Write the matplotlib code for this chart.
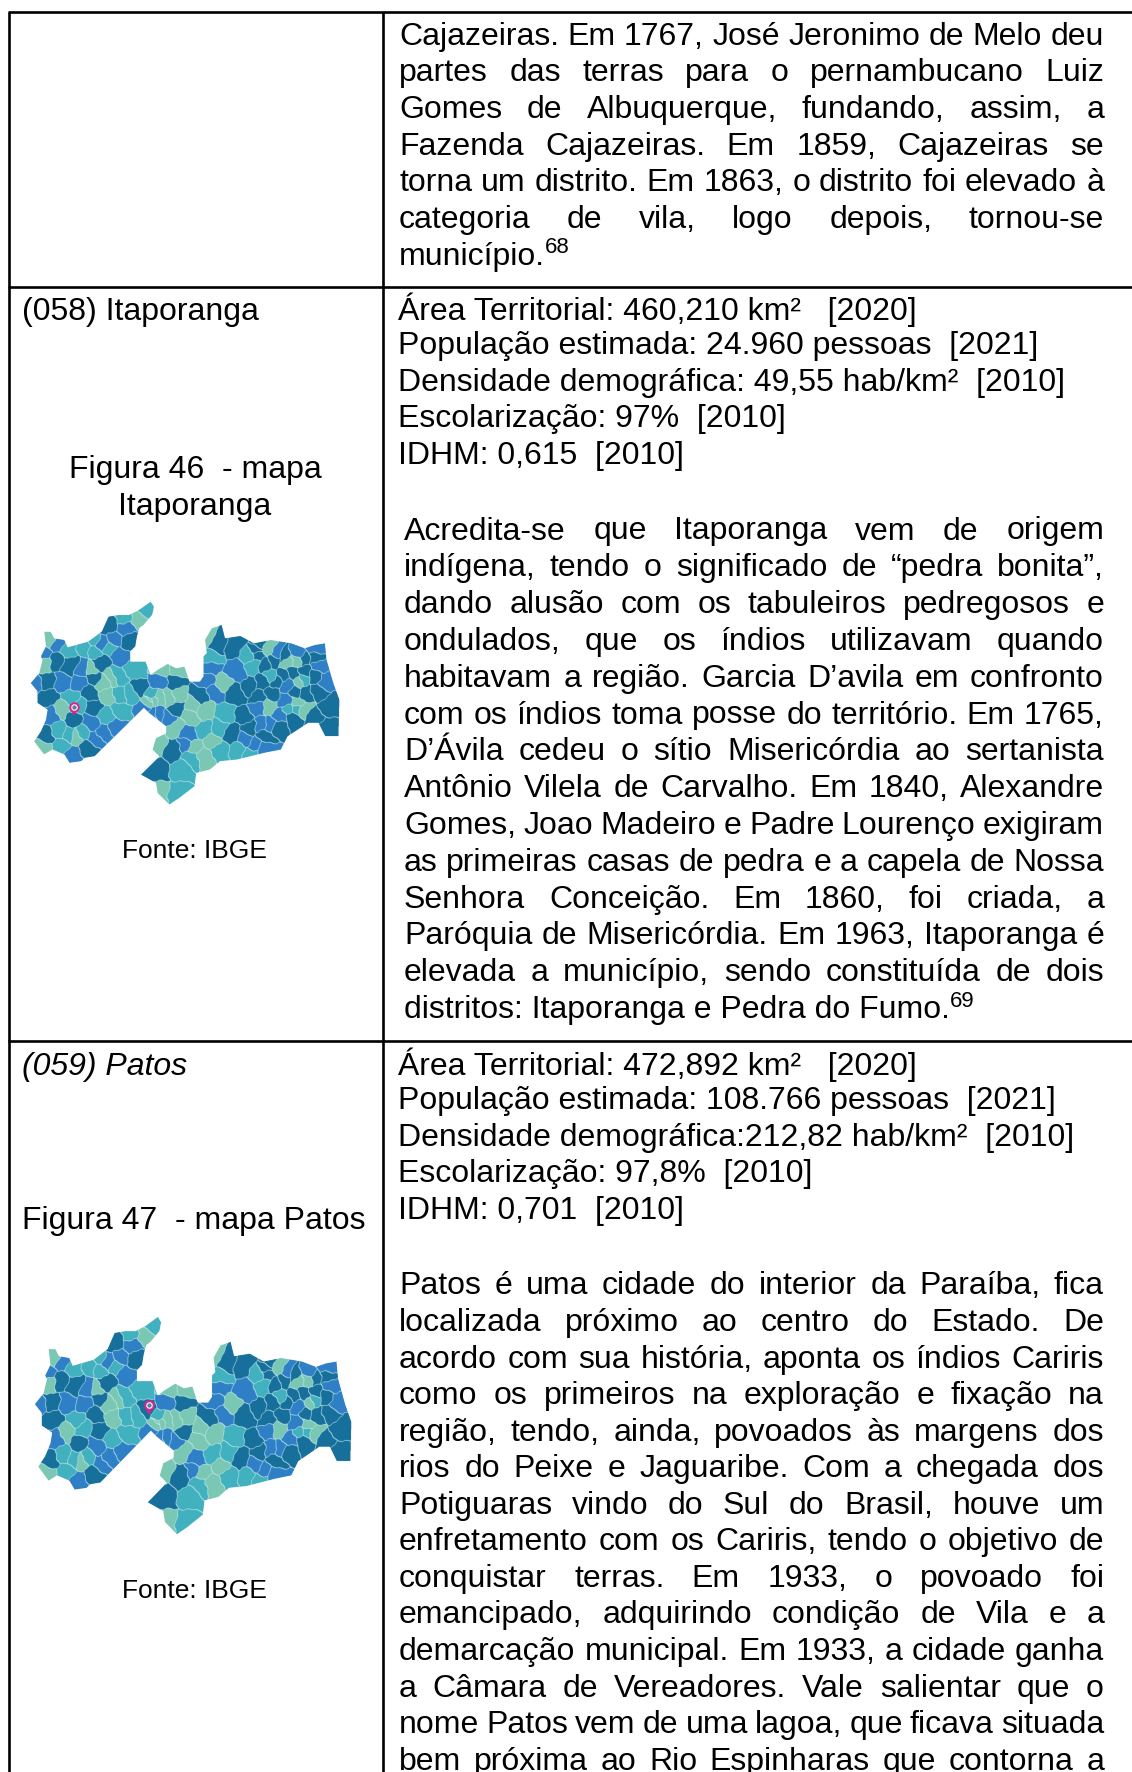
import numpy as np
import matplotlib
matplotlib.use('Agg')
import matplotlib.pyplot as plt
from matplotlib.colors import ListedColormap
from matplotlib.path import Path

plt.rcParams['font.family'] = ['Liberation Sans', 'DejaVu Sans']

# text of the table
top_lines = ['Cajazeiras. Em 1767, José Jeronimo de Melo deu',
             'partes das terras para o pernambucano Luiz',
             'Gomes de Albuquerque, fundando, assim, a',
             'Fazenda Cajazeiras. Em 1859, Cajazeiras se',
             'torna um distrito. Em 1863, o distrito foi elevado à',
             'categoria de vila, logo depois, tornou-se',
             'município.']
itap_facts = ['Área Territorial: 460,210 km²   [2020]',
              'População estimada: 24.960 pessoas  [2021]',
              'Densidade demográfica: 49,55 hab/km²  [2010]',
              'Escolarização: 97%  [2010]',
              'IDHM: 0,615  [2010]']
itap_lines = ['Acredita-se que Itaporanga vem de origem',
              'indígena, tendo o significado de “pedra bonita”,',
              'dando alusão com os tabuleiros pedregosos e',
              'ondulados, que os índios utilizavam quando',
              'habitavam a região. Garcia D’avila em confronto',
              'com os índios toma posse do território. Em 1765,',
              'D’Ávila cedeu o sítio Misericórdia ao sertanista',
              'Antônio Vilela de Carvalho. Em 1840, Alexandre',
              'Gomes, Joao Madeiro e Padre Lourenço exigiram',
              'as primeiras casas de pedra e a capela de Nossa',
              'Senhora Conceição. Em 1860, foi criada, a',
              'Paróquia de Misericórdia. Em 1963, Itaporanga é',
              'elevada a município, sendo constituída de dois',
              'distritos: Itaporanga e Pedra do Fumo.']
patos_facts = ['Área Territorial: 472,892 km²   [2020]',
               'População estimada: 108.766 pessoas  [2021]',
               'Densidade demográfica:212,82 hab/km²  [2010]',
               'Escolarização: 97,8%  [2010]',
               'IDHM: 0,701  [2010]']
patos_lines = ['Patos é uma cidade do interior da Paraíba, fica',
               'localizada próximo ao centro do Estado. De',
               'acordo com sua história, aponta os índios Cariris',
               'como os primeiros na exploração e fixação na',
               'região, tendo, ainda, povoados às margens dos',
               'rios do Peixe e Jaguaribe. Com a chegada dos',
               'Potiguaras vindo do Sul do Brasil, houve um',
               'enfretamento com os Cariris, tendo o objetivo de',
               'conquistar terras. Em 1933, o povoado foi',
               'emancipado, adquirindo condição de Vila e a',
               'demarcação municipal. Em 1933, a cidade ganha',
               'a Câmara de Vereadores. Vale salientar que o',
               'nome Patos vem de uma lagoa, que ficava situada',
               'bem próxima ao Rio Espinharas que contorna a']

# state outline
outline_x = [90,115,125,120,135,130,150,160,190,200,260,300,320,350,380,410,445,455,450,425,412,405,400,385,385,430,445,465,495,520,545,560,590,600,600,610,605,625,655,665,710,750,800,860,900,930,960,965,985,1003,1000,960,940,910,880,850,830,780,740,700,650,620,580,575,530,500,465,460,415,450,470,450,460,490,490,440,425,385,350,310,280,250,240,205,190,155,130,100,120,135,140,110,110]
outline_y = [370,340,300,290,260,215,215,235,240,262,245,215,170,165,165,150,125,140,165,195,205,230,260,275,305,305,345,330,312,325,320,365,365,350,290,280,240,205,195,235,228,250,240,250,265,255,250,300,370,420,530,530,490,490,510,530,570,580,590,600,605,630,640,680,715,735,700,670,645,610,590,570,535,520,500,460,445,485,520,560,590,595,605,610,585,570,585,545,515,480,450,430,395]

west_dark = [(250,95),(310,135),(90,200),(135,210),(65,260),(70,305),(225,205),(205,245),(195,295),(205,335),(145,370),(65,420),(190,460),(345,280)]
west_blue = [(305,100),(265,135),(230,148),(280,180),(100,148),(55,170),(30,268),(112,265),(160,265),(172,225),(78,360),(195,385),(235,415),(270,395),(210,430),(140,478),(400,260),(360,340),(400,360)]
west_teal = [(355,40),(300,65),(200,135),(255,160),(130,160),(180,155),(210,165),(330,225),(140,305),(160,335),(245,365),(285,345),(315,300),(285,300),(100,410),(135,420),(110,455),(175,415),(275,245),(380,300)]
west_mint = [(335,72),(70,135),(60,205),(200,225),(50,460),(110,345),(150,425),(235,265),(245,305),(260,250),(370,320),(380,315)]

mid_dark = [(245,70),(300,80),(195,225),(300,225),(120,180),(125,265),(115,390),(65,455),(290,345),(330,290),(345,320),(365,90)]
mid_blue = [(70,185),(305,155),(240,215),(225,145),(215,180),(160,345),(55,285),(100,295),(330,360),(150,375)]
mid_teal = [(225,115),(270,280),(210,330),(250,325),(140,450),(130,520),(170,415),(255,390),(310,390),(345,400),(340,105)]
mid_mint = [(215,55),(80,150),(130,155),(260,190),(120,320),(165,290),(210,275),(130,230),(45,240),(75,235),(100,235),(230,365),(205,410),(175,380),(65,375),(70,515),(170,255)]

east_dark = [(180,90),(170,120),(195,150),(220,135),(250,125),(310,130),(345,130),(150,215),(215,235),(195,365),(230,335),(280,310),(340,310),(375,340),(385,270),(355,230),(315,240),(285,230),(250,180),(280,175),(345,185),(315,170),(185,205),(175,245),(225,195)]
east_blue = [(255,260),(230,115),(295,115),(345,100),(355,150),(180,330),(210,330),(240,300),(175,280),(265,215),(195,400),(370,200),(160,390)]
east_teal = [(160,150),(290,280),(215,185),(305,190),(265,285)]
east_mint = [(205,100),(260,145),(290,135),(205,275),(310,285),(295,195),(290,262)]

class_colors = ['#17709b', '#2f80c6', '#42b1bf', '#7ac8b4', '#c4e9ec']


def to_map(points, dx, dy):
    # crop pixels to the units of the outline
    return [((x + dx + 75) / 1.0156, y + dy + 105) for x, y in points]


seed_pts = []
seed_cls = []
for c, groups in enumerate([(west_dark, mid_dark, east_dark), (west_blue, mid_blue, east_blue),
                            (west_teal, mid_teal, east_teal), (west_mint, mid_mint, east_mint)]):
    for pts, dx, dy in zip(groups, (0, 330, 525), (0, 75, 60)):
        for p in to_map(pts, dx, dy):
            seed_pts.append(p)
            seed_cls.append(c)
seed_pts = np.array(seed_pts)
seed_cls = np.array(seed_cls)


def build_map():
    # nearest municipality on a fine grid, edges get the light colour
    step = 0.8
    xs = np.arange(80, 1010, step)
    ys = np.arange(115, 745, step)
    gx, gy = np.meshgrid(xs, ys)
    wx = gx + 3 * np.sin(gy / 10.0) + 1.5 * np.sin(gy / 4.7 + gx / 7.0)
    wy = gy + 3 * np.sin(gx / 12.0) + 1.5 * np.cos(gx / 4.3 - gy / 6.0)
    nearest = np.empty(gx.shape, dtype=int)
    for i in range(gx.shape[0]):
        d = (wx[i, :, None] - seed_pts[:, 0]) ** 2 + (wy[i, :, None] - seed_pts[:, 1]) ** 2
        nearest[i] = d.argmin(axis=1)
    cls = seed_cls[nearest].astype(float)
    edge = np.zeros(gx.shape, dtype=bool)
    edge[1:, :] |= nearest[1:, :] != nearest[:-1, :]
    edge[:, 1:] |= nearest[:, 1:] != nearest[:, :-1]
    wide = edge.copy()
    wide[1:, :] |= edge[:-1, :]
    wide[:, 1:] |= edge[:, :-1]
    cls[wide] = 4
    poly = Path(np.column_stack([outline_x + outline_x[:1], outline_y + outline_y[:1]]))
    inside = poly.contains_points(np.column_stack([gx.ravel(), gy.ravel()])).reshape(gx.shape)
    cls[~inside] = np.nan
    return cls, xs[0], xs[-1], ys[0], ys[-1]


fig = plt.figure(figsize=(11.32, 17.72), dpi=100)
ax = fig.add_axes([0, 0, 1, 1])
cmap = ListedColormap(class_colors)
cmap.set_bad((1, 1, 1, 0))
cls, x0, x1, y0, y1 = build_map()


def to1(x, y):
    return x / 2.954, 560 + y / 3.0


def to2(x, y):
    # second map is the same shape, a little bigger
    return (112 + (x - 100) * 1.026) / 2.954, 1270 + (142 + (y - 125) * 1.07) / 3.0


for to in (to1, to2):
    a, b = to(x0, y0)
    c, d = to(x1, y1)
    ax.imshow(cls, extent=[a, c, d, b], cmap=cmap, vmin=-0.5, vmax=4.5, aspect='auto',
              interpolation='hanning', interpolation_stage='rgba', zorder=1)

# pin markers
pins = [to1(219, 440), to2(420, 371)]
for px, py in pins:
    ax.plot([px], [py + 5.5], marker='v', ms=6, color='#e0218a', mew=0, zorder=3)
    ax.plot([px], [py], marker='o', ms=7.5, color='#e0218a', mew=0, zorder=3)
    ax.plot([px], [py], marker='o', ms=4.8, color='#e8eef2', mew=0, zorder=4)
    ax.plot([px], [py], marker='o', ms=3.0, color='#5b7f99', mew=0, zorder=4)

ax.set_xlim(0, 1132)
ax.set_ylim(1772, 0)
ax.axis('off')

# table rules
rule = dict(color='black', lw=1.9, solid_capstyle='butt', zorder=5)
for yy in (12, 287, 1041):
    ax.plot([8, 1132], [yy, yy], **rule)
for xx in (9, 383):
    ax.plot([xx, xx], [12, 1772], **rule)

fs = 23.0
renderer = fig.canvas.get_renderer()


def width_of(s, size=fs):
    t = ax.text(0, 0, s, fontsize=size)
    w = t.get_window_extent(renderer).width
    t.remove()
    return w


def put(x, y, s, **kw):
    return ax.text(x, y, s, fontsize=kw.pop('size', fs), va='center_baseline', color='black', **kw)


def justified(lines, xl, xr, y, dy, last_free=True):
    for n, line in enumerate(lines):
        yy = y + n * dy
        if n == len(lines) - 1 and last_free:
            put(xl, yy, line)
            continue
        words = line.split()
        total = sum(width_of(w) for w in words)
        gap = (xr - xl - total) / (len(words) - 1)
        xx = xl
        for w in words:
            put(xx, yy, w)
            xx += width_of(w) + gap


justified(top_lines, 399, 1104, 33, 36.67)
put(399 + width_of('município.'), 245, '68', size=16)

put(22, 308, '(058) Itaporanga')
put(195, 466, 'Figura 46  - mapa', ha='center')
put(195, 503, 'Itaporanga', ha='center')
put(195, 848, 'Fonte: IBGE', ha='center', size=19)
for n, line in enumerate(itap_facts):
    put(398, 306 + n * 36.6, line)
justified(itap_lines, 404, 1104, 528, 36.8)
put(404 + width_of(itap_lines[-1]), 999, '69', size=16)

put(22, 1064, '(059) Patos', style='italic')
put(22, 1217, 'Figura 47  - mapa Patos')
put(195, 1588, 'Fonte: IBGE', ha='center', size=19)
for n, line in enumerate(patos_facts):
    put(398, 1061 + n * 36.6, line)
justified(patos_lines, 399, 1104, 1283, 36.55, last_free=False)

fig.savefig('out.png', dpi=100)
